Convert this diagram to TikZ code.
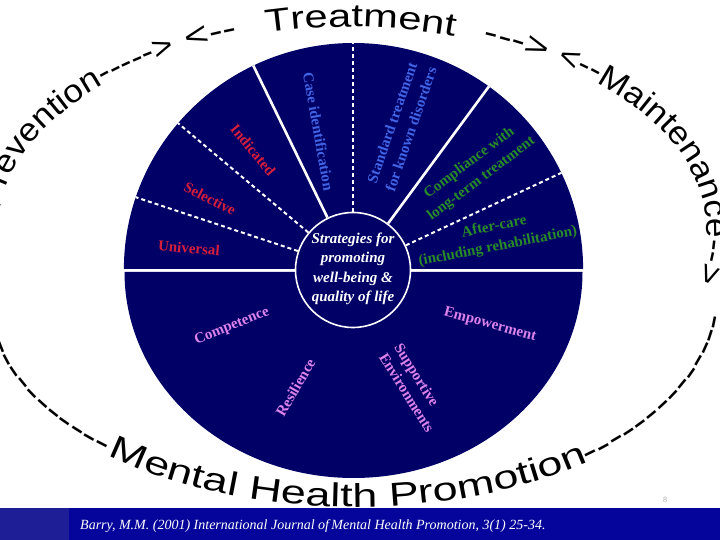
\documentclass[tikz,border=0pt]{standalone}
\usepackage{fontspec}
\setmainfont{Liberation Serif}
\newfontfamily\arcfont[FakeStretch=1.3]{Liberation Sans}
\newfontfamily\botfont[FakeStretch=1.36]{Liberation Sans}
\newfontfamily\sidefont[FakeStretch=1.1]{Liberation Sans}
\usetikzlibrary{decorations.text,calc}
\definecolor{navy}{RGB}{0,0,102}
\definecolor{lblred}{RGB}{215,30,60}
\definecolor{lblblue}{RGB}{65,100,230}
\definecolor{lblgreen}{RGB}{40,140,40}
\definecolor{lblviolet}{RGB}{220,130,235}
\definecolor{bandleft}{RGB}{30,30,150}
\definecolor{bandright}{RGB}{5,5,155}
% #1 text, #2 align, #3 cx, #4 cy, #5 rx, #6 ry, #7 start, #8 end, #9 font
\newcommand\arcpiece[9]{%
  \path[decorate, decoration={text along path, text color=black, text align=#2,
    text={|#9|#1}}]
    ([shift={(#3,#4)}]#7:#5pt and #6pt) arc[start angle=#7, end angle=#8, x radius=#5pt, y radius=#6pt];}
\begin{document}
\begin{tikzpicture}[x=1pt,y=1pt,
  lbl/.style={font=\fontsize{15}{20}\selectfont\bfseries, inner sep=0pt, align=center},
  solidsep/.style={draw=white, line width=2.6pt},
  dashsep/.style={draw=white, line width=2pt, dash pattern=on 4pt off 3pt},
  corestyle/.style={circle, draw=white, line width=1.6pt, fill=navy, minimum size=115pt, inner sep=0pt}
]
\useasboundingbox (0,0) rectangle (720,540);
\clip (0,0) rectangle (720,540);
\fill[white] (0,0) rectangle (720,540);

% discs
\fill[navy] (123.9,271) arc[start angle=180,end angle=0,x radius=229.6pt,y radius=226pt] -- cycle;
\fill[navy] (124.5,268) arc[start angle=180,end angle=360,x radius=229pt,y radius=206pt] -- cycle;

\node[corestyle] (core) at (353,270) {};
\begin{scope}
\clip (123.9,271) arc[start angle=180,end angle=0,x radius=229.6pt,y radius=226pt] -- cycle;
\foreach \a/\n in {161.5/a,140/b,90/c,25/d} {
  \coordinate (e\n) at ($(core)+(\a:260pt)$);
  \draw[dashsep] (core.\a) -- (e\n);
}
\foreach \a/\n in {116/f,53.5/g} {
  \coordinate (e\n) at ($(core)+(\a:260pt)$);
  \draw[solidsep] (core.\a) -- (e\n);
}
\end{scope}

\node[text=white, font=\fontsize{15}{19.5}\selectfont\bfseries\itshape, align=center] (coretext) at (353,271)
  {Strategies for\\promoting\\well-being \&\\quality of life};

% sector labels
\node[lbl, text=lblred, rotate=-5] (universal) at (189,292) {Universal};
\node[lbl, text=lblred, rotate=-27] (selective) at (210,341.5) {Selective};
\node[lbl, text=lblred, rotate=-50] (indicated) at (253,390) {Indicated};
\node[lbl, text=lblblue, rotate=-80] (caseid) at (318.5,408.5) {Case identification};
\node[lbl, text=lblblue, rotate=71] (standard) at (401.5,414) {Standard treatment\\for known disorders};
\node[lbl, text=lblgreen, rotate=37] (compliance) at (475.5,369) {Compliance with\\long-term treatment};
\node[lbl, text=lblgreen, rotate=11] (aftercare) at (496,303) {After-care\\(including rehabilitation)};
\node[lbl, text=lblviolet, rotate=22] (competence) at (232,213.5) {Competence};
\node[lbl, text=lblviolet, rotate=60] (resilience) at (295.5,152.5) {Resilience};
\node[lbl, text=lblviolet, rotate=-58, align=left, font=\fontsize{15}{18}\selectfont\bfseries] (supportive) at (414.5,152) {Supportive\\Environments};
\node[lbl, text=lblviolet, rotate=-15] (empowerment) at (490,215) {Empowerment};

% top arc text
\arcpiece{Prevention----->}{right}{350}{310}{352}{203}{200}{119.6}{\sidefont\fontsize{32}{32}\selectfont}
\arcpiece{<--}{center}{350}{310}{352}{203}{120}{106}{\arcfont\fontsize{32}{32}\selectfont}
\arcpiece{Treatment}{center}{350}{310}{352}{203}{108}{68.4}{\arcfont\fontsize{32}{32}\selectfont}
\arcpiece{--->}{center}{350}{310}{352}{203}{71}{52.8}{\arcfont\fontsize{32}{32}\selectfont}
\arcpiece{<--Maintenance-->}{left}{355}{310}{352}{203}{55}{-70}{\sidefont\fontsize{32}{32}\selectfont}

% bottom arc text
\arcpiece{--------------}{right}{355}{230}{370}{197}{175}{227.5}{\botfont\fontsize{33}{33}\selectfont}
\arcpiece{Mental Health Promotion}{center}{355}{236}{370}{203}{220}{317}{\botfont\fontsize{33}{33}\selectfont}
\arcpiece{--------------------}{left}{355}{241}{370}{213}{309}{357}{\botfont\fontsize{33}{33}\selectfont}

% footer
\fill[bandright] (0,0) rectangle (720,32);
\fill[bandleft] (0,0) rectangle (69,32);
\node[anchor=base west, text=white, font=\fontsize{14}{15}\selectfont\itshape, inner sep=0pt] (cite) at (80,10)
  {Barry, M.M. (2001) International Journal of\,Mental Health Promotion, 3(1) 25-34.};
\node[text=black!35, font=\fontsize{8}{8}\selectfont, inner sep=0pt] (pagenum) at (665,40) {8};
\end{tikzpicture}
\end{document}
